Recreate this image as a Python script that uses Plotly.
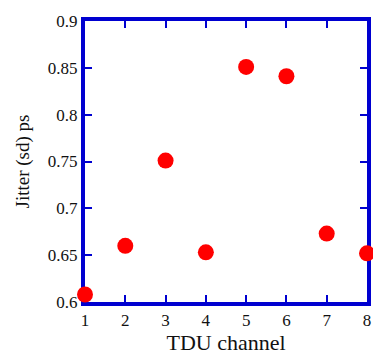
import plotly.graph_objects as go

channels = [1, 2, 3, 4, 5, 6, 7, 8]
jitter_ps = [0.608, 0.660, 0.751, 0.653, 0.851, 0.841, 0.673, 0.652]
x_ticks = [1, 2, 3, 4, 5, 6, 7, 8]
y_ticks = [0.6, 0.65, 0.7, 0.75, 0.8, 0.85, 0.9]
y_tick_labels = ["0.6", "0.65", "0.7", "0.75", "0.8", "0.85", "0.9"]

blue = "#0000D0"
serif = "Liberation Serif, Times New Roman, serif"

fig = go.Figure(go.Scatter(
    x=channels, y=jitter_ps, mode="markers",
    marker=dict(size=16, color="#FF0000", line=dict(width=0)),
    cliponaxis=False,
))

axis_common = dict(
    showline=True, linecolor=blue, linewidth=4, mirror="ticks",
    ticks="inside", ticklen=7, tickwidth=2, tickcolor=blue,
    showgrid=False, zeroline=False, layer="below traces", automargin=False,
    tickfont=dict(family=serif, size=17, color="#111"),
)

fig.update_layout(
    width=373, height=355,
    margin=dict(l=85, r=6, t=21, b=53, autoexpand=False),
    paper_bgcolor="white", plot_bgcolor="white",
    showlegend=False,
    font=dict(family=serif, color="#111"),
    xaxis=dict(range=[1, 8], tickvals=x_ticks,
               title=dict(text="TDU channel", font=dict(family=serif, size=22), standoff=9),
               **axis_common),
    yaxis=dict(range=[0.6, 0.9], tickvals=y_ticks, ticktext=y_tick_labels,
               title=dict(text="Jitter (sd) ps", font=dict(family=serif, size=19), standoff=14),
               **axis_common),
)

fig.write_html("out.html", config={"displayModeBar": False},
               post_script="document.body.style.margin='0';document.body.style.overflow='hidden';")
